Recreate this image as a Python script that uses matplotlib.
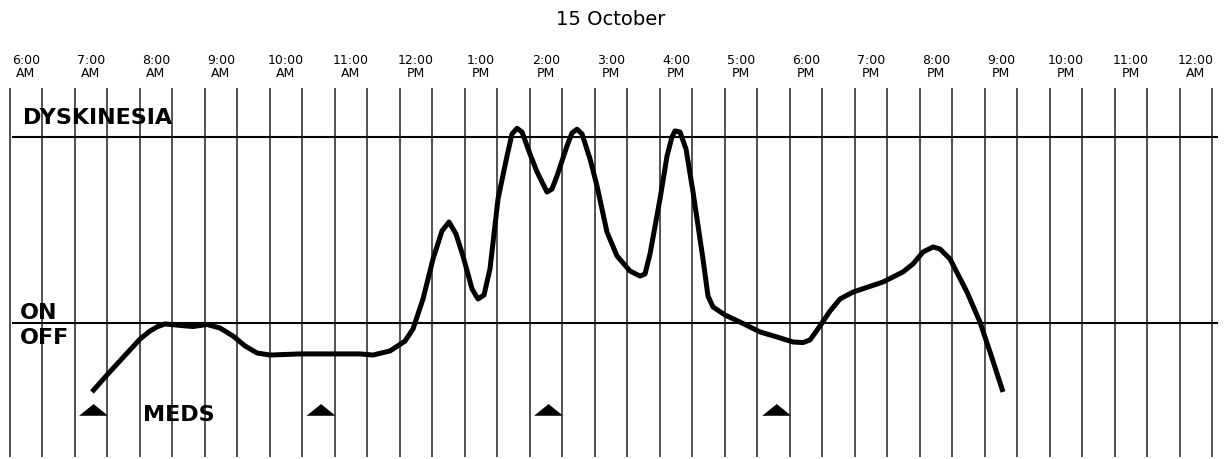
import matplotlib
matplotlib.use("Agg")
import matplotlib.pyplot as plt

# hourly labels along the top
hours = [6, 7, 8, 9, 10, 11, 12, 13, 14, 15, 16, 17, 18, 19, 20, 21, 22, 23, 24]
hour_labels = ["6:00\nAM", "7:00\nAM", "8:00\nAM", "9:00\nAM", "10:00\nAM", "11:00\nAM",
               "12:00\nPM", "1:00\nPM", "2:00\nPM", "3:00\nPM", "4:00\nPM", "5:00\nPM",
               "6:00\nPM", "7:00\nPM", "8:00\nPM", "9:00\nPM", "10:00\nPM", "11:00\nPM",
               "12:00\nAM"]

# symptom curve: time (hours) and level (0 = ON/OFF line, 1 = dyskinesia line)
t_curve = [7.015, 7.246, 7.754, 7.908, 8.015, 8.138, 8.369, 8.569, 8.785, 8.985,
           9.185, 9.369, 9.554, 9.754, 10.215, 10.723, 11.138, 11.338, 11.600, 11.831,
           11.954, 12.108, 12.262, 12.400, 12.508, 12.615, 12.723, 12.862, 12.954, 13.046,
           13.138, 13.262, 13.400, 13.477, 13.554, 13.631, 13.754, 13.862, 14.015, 14.092,
           14.169, 14.323, 14.400, 14.477, 14.554, 14.677, 14.785, 14.938, 15.092, 15.292,
           15.446, 15.523, 15.600, 15.754, 15.862, 15.938, 15.985, 16.062, 16.154, 16.262,
           16.415, 16.492, 16.569, 16.754, 16.985, 17.292, 17.554, 17.800, 17.954, 18.062,
           18.215, 18.369, 18.523, 18.723, 19.185, 19.492, 19.646, 19.800, 19.954, 20.062,
           20.215, 20.477, 20.677, 20.831, 21.031]
level = [-0.370, -0.279, -0.086, -0.043, -0.021, -0.005, -0.013, -0.019, -0.008, -0.027,
         -0.070, -0.123, -0.161, -0.172, -0.166, -0.166, -0.166, -0.172, -0.150, -0.097,
         -0.032, 0.129, 0.344, 0.494, 0.542, 0.478, 0.360, 0.183, 0.129, 0.150,
         0.290, 0.666, 0.896, 1.015, 1.045, 1.025, 0.907, 0.811, 0.703, 0.719,
         0.789, 0.950, 1.020, 1.040, 1.015, 0.881, 0.735, 0.488, 0.360, 0.279,
         0.252, 0.263, 0.370, 0.666, 0.896, 0.998, 1.031, 1.025, 0.934, 0.703,
         0.344, 0.145, 0.086, 0.043, 0.005, -0.048, -0.075, -0.102, -0.105, -0.091,
         -0.016, 0.064, 0.129, 0.166, 0.220, 0.274, 0.317, 0.381, 0.408, 0.397,
         0.344, 0.166, 0.005, -0.156, -0.370]

# medication times
meds = [7.04, 10.54, 14.04, 17.55]

fig = plt.figure(figsize=(12.28, 4.6), dpi=100)
ax = fig.add_axes([0, 0, 1, 1])
ax.set_xlim(5.6, 24.4923)
ax.set_ylim(-0.730, 1.739)
ax.axis("off")

# half-hour grid
grid_t = [5.75 + 0.5 * k for k in range(38)]
ax.vlines(grid_t, -0.719, 1.260, color="#222222", lw=1.1)

# ON/OFF and dyskinesia lines
ax.hlines([0, 1], 5.785, 24.338, color="black", lw=1.5)

ax.plot(t_curve, level, color="black", lw=3.6,
        solid_joinstyle="round", solid_capstyle="butt")

# med markers
hw = 0.223
base = -0.498
h = 0.063
for m in meds:
    ax.fill([m - hw, m + hw, m], [base, base, base + h], color="black", lw=0)

for hr, lab in zip(hours, hour_labels):
    ax.text(hr, 1.3795, lab, ha="center", va="center", fontsize=9,
            linespacing=1.05, family="DejaVu Sans")

ax.text(15.0, 1.637, "15 October", ha="center", va="center", fontsize=14,
        family="DejaVu Sans")

bold = dict(fontsize=16, fontweight="bold", family="DejaVu Sans", va="center")
ax.text(5.95, 1.104, "DYSKINESIA", ha="left", **bold)
ax.text(5.91, 0.060, "ON", ha="left", **bold)
ax.text(5.91, -0.074, "OFF", ha="left", **bold)
ax.text(8.354, -0.488, "MEDS", ha="center", **bold)

fig.savefig("out.png", dpi=100)
